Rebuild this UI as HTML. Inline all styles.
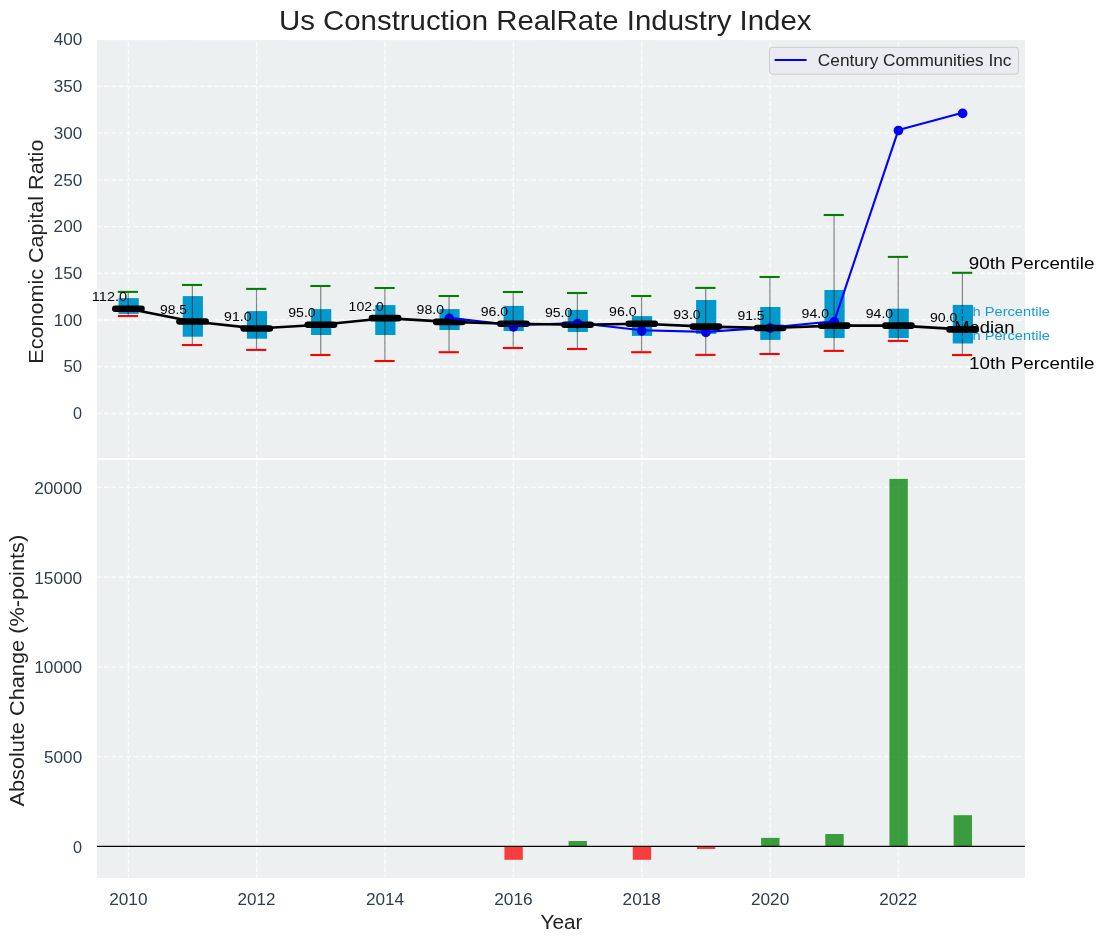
<!DOCTYPE html>
<html><head><meta charset="utf-8"><title>Us Construction RealRate Industry Index</title>
<style>html,body{margin:0;padding:0;background:#fff;}body{width:1104px;height:942px;overflow:hidden;font-family:"Liberation Sans",sans-serif;}svg{display:block;will-change:transform;}</style>
</head><body>
<svg width="1104" height="942" viewBox="0 0 1104 942" font-family="Liberation Sans, sans-serif">
<rect width="1104" height="942" fill="#ffffff"/>
<rect x="97" y="40" width="928" height="418" fill="#ecf0f1"/>
<rect x="97" y="460" width="928" height="418" fill="#ecf0f1"/>
<path d="M128.40 458V40 M128.40 878V460 M256.74 458V40 M256.74 878V460 M385.08 458V40 M385.08 878V460 M513.42 458V40 M513.42 878V460 M641.76 458V40 M641.76 878V460 M770.10 458V40 M770.10 878V460 M898.44 458V40 M898.44 878V460" stroke="#ffffff" stroke-opacity="0.75" stroke-width="1.39" stroke-dasharray="5.14 2.22" fill="none" stroke-dashoffset="1.34"/>
<path d="M97 413.50H1025 M97 366.77H1025 M97 320.04H1025 M97 273.31H1025 M97 226.58H1025 M97 179.85H1025 M97 133.12H1025 M97 86.39H1025 M97 39.66H1025 M97 846.30H1025 M97 756.57H1025 M97 666.85H1025 M97 577.12H1025 M97 487.40H1025" stroke="#ffffff" stroke-opacity="0.75" stroke-width="1.39" stroke-dasharray="5.14 2.22" fill="none" stroke-dashoffset="0.5"/>
<text x="952.11" y="315.90" font-size="13.58" fill="#1a9bd0" textLength="97.80" lengthAdjust="spacingAndGlyphs">75th Percentile</text>
<text x="952.04" y="339.90" font-size="13.58" fill="#1a9bd0" textLength="97.87" lengthAdjust="spacingAndGlyphs">25th Percentile</text>
<rect x="118.55" y="298.10" width="20.2" height="15.80" fill="#0399cc"/>
<rect x="182.72" y="296.10" width="20.2" height="40.60" fill="#0399cc"/>
<rect x="246.89" y="311.10" width="20.2" height="27.60" fill="#0399cc"/>
<rect x="311.06" y="309.10" width="20.2" height="25.90" fill="#0399cc"/>
<rect x="375.23" y="305.10" width="20.2" height="29.90" fill="#0399cc"/>
<rect x="439.40" y="309.10" width="20.2" height="20.90" fill="#0399cc"/>
<rect x="503.57" y="305.90" width="20.2" height="25.10" fill="#0399cc"/>
<rect x="567.74" y="309.90" width="20.2" height="22.10" fill="#0399cc"/>
<rect x="631.91" y="316.10" width="20.2" height="19.80" fill="#0399cc"/>
<rect x="696.08" y="300.00" width="20.2" height="33.90" fill="#0399cc"/>
<rect x="760.25" y="307.00" width="20.2" height="32.90" fill="#0399cc"/>
<rect x="824.42" y="290.00" width="20.2" height="48.00" fill="#0399cc"/>
<rect x="888.59" y="308.70" width="20.2" height="29.30" fill="#0399cc"/>
<rect x="952.76" y="304.90" width="20.2" height="38.60" fill="#0399cc"/>
<circle cx="449.25" cy="318.40" r="4.85" fill="#0000ff"/>
<circle cx="513.42" cy="326.80" r="4.85" fill="#0000ff"/>
<circle cx="577.59" cy="323.60" r="4.85" fill="#0000ff"/>
<circle cx="641.76" cy="330.90" r="4.85" fill="#0000ff"/>
<circle cx="705.93" cy="332.40" r="4.85" fill="#0000ff"/>
<circle cx="770.10" cy="328.10" r="4.85" fill="#0000ff"/>
<circle cx="834.27" cy="321.75" r="4.85" fill="#0000ff"/>
<circle cx="898.44" cy="130.50" r="4.85" fill="#0000ff"/>
<circle cx="962.61" cy="113.40" r="4.85" fill="#0000ff"/>
<path d="M128.20 291.90V316.00" stroke="#000" stroke-opacity="0.45" stroke-width="1.2" fill="none"/>
<path d="M192.37 284.95V345.00" stroke="#000" stroke-opacity="0.45" stroke-width="1.2" fill="none"/>
<path d="M256.54 288.90V349.90" stroke="#000" stroke-opacity="0.45" stroke-width="1.2" fill="none"/>
<path d="M320.71 286.00V355.00" stroke="#000" stroke-opacity="0.45" stroke-width="1.2" fill="none"/>
<path d="M384.88 288.00V361.00" stroke="#000" stroke-opacity="0.45" stroke-width="1.2" fill="none"/>
<path d="M449.05 296.00V352.20" stroke="#000" stroke-opacity="0.45" stroke-width="1.2" fill="none"/>
<path d="M513.22 292.00V348.00" stroke="#000" stroke-opacity="0.45" stroke-width="1.2" fill="none"/>
<path d="M577.39 293.00V349.00" stroke="#000" stroke-opacity="0.45" stroke-width="1.2" fill="none"/>
<path d="M641.56 296.00V352.20" stroke="#000" stroke-opacity="0.45" stroke-width="1.2" fill="none"/>
<path d="M705.73 287.90V354.90" stroke="#000" stroke-opacity="0.45" stroke-width="1.2" fill="none"/>
<path d="M769.90 277.00V354.00" stroke="#000" stroke-opacity="0.45" stroke-width="1.2" fill="none"/>
<path d="M834.07 215.00V350.90" stroke="#000" stroke-opacity="0.45" stroke-width="1.2" fill="none"/>
<path d="M898.24 256.90V340.90" stroke="#000" stroke-opacity="0.45" stroke-width="1.2" fill="none"/>
<path d="M962.41 272.80V304.90M962.41 343.50V355.00" stroke="#000" stroke-opacity="0.45" stroke-width="1.2" fill="none"/>
<path d="M962.41 343.50V304.90" stroke="#000" stroke-opacity="0.45" stroke-width="1.2" stroke-dasharray="5.14 2.22" fill="none"/>
<path d="M117.80 291.90H138.00" stroke="#008000" stroke-width="2.08"/>
<path d="M117.80 316.00H138.00" stroke="#ff0000" stroke-width="2.08"/>
<path d="M181.97 284.95H202.17" stroke="#008000" stroke-width="2.08"/>
<path d="M181.97 345.00H202.17" stroke="#ff0000" stroke-width="2.08"/>
<path d="M246.14 288.90H266.34" stroke="#008000" stroke-width="2.08"/>
<path d="M246.14 349.90H266.34" stroke="#ff0000" stroke-width="2.08"/>
<path d="M310.31 286.00H330.51" stroke="#008000" stroke-width="2.08"/>
<path d="M310.31 355.00H330.51" stroke="#ff0000" stroke-width="2.08"/>
<path d="M374.48 288.00H394.68" stroke="#008000" stroke-width="2.08"/>
<path d="M374.48 361.00H394.68" stroke="#ff0000" stroke-width="2.08"/>
<path d="M438.65 296.00H458.85" stroke="#008000" stroke-width="2.08"/>
<path d="M438.65 352.20H458.85" stroke="#ff0000" stroke-width="2.08"/>
<path d="M502.82 292.00H523.02" stroke="#008000" stroke-width="2.08"/>
<path d="M502.82 348.00H523.02" stroke="#ff0000" stroke-width="2.08"/>
<path d="M566.99 293.00H587.19" stroke="#008000" stroke-width="2.08"/>
<path d="M566.99 349.00H587.19" stroke="#ff0000" stroke-width="2.08"/>
<path d="M631.16 296.00H651.36" stroke="#008000" stroke-width="2.08"/>
<path d="M631.16 352.20H651.36" stroke="#ff0000" stroke-width="2.08"/>
<path d="M695.33 287.90H715.53" stroke="#008000" stroke-width="2.08"/>
<path d="M695.33 354.90H715.53" stroke="#ff0000" stroke-width="2.08"/>
<path d="M759.50 277.00H779.70" stroke="#008000" stroke-width="2.08"/>
<path d="M759.50 354.00H779.70" stroke="#ff0000" stroke-width="2.08"/>
<path d="M823.67 215.00H843.87" stroke="#008000" stroke-width="2.08"/>
<path d="M823.67 350.90H843.87" stroke="#ff0000" stroke-width="2.08"/>
<path d="M887.84 256.90H908.04" stroke="#008000" stroke-width="2.08"/>
<path d="M887.84 340.90H908.04" stroke="#ff0000" stroke-width="2.08"/>
<path d="M952.01 272.80H972.21" stroke="#008000" stroke-width="2.08"/>
<path d="M952.01 355.00H972.21" stroke="#ff0000" stroke-width="2.08"/>
<path d="M115.30 308.82H141.50" stroke="#000" stroke-width="6.6" stroke-linecap="round"/>
<path d="M179.47 321.44H205.67" stroke="#000" stroke-width="6.6" stroke-linecap="round"/>
<path d="M243.64 328.45H269.84" stroke="#000" stroke-width="6.6" stroke-linecap="round"/>
<path d="M307.81 324.71H334.01" stroke="#000" stroke-width="6.6" stroke-linecap="round"/>
<path d="M371.98 318.17H398.18" stroke="#000" stroke-width="6.6" stroke-linecap="round"/>
<path d="M436.15 321.91H462.35" stroke="#000" stroke-width="6.6" stroke-linecap="round"/>
<path d="M500.32 323.78H526.52" stroke="#000" stroke-width="6.6" stroke-linecap="round"/>
<path d="M564.49 324.71H590.69" stroke="#000" stroke-width="6.6" stroke-linecap="round"/>
<path d="M628.66 323.78H654.86" stroke="#000" stroke-width="6.6" stroke-linecap="round"/>
<path d="M692.83 326.58H719.03" stroke="#000" stroke-width="6.6" stroke-linecap="round"/>
<path d="M757.00 327.98H783.20" stroke="#000" stroke-width="6.6" stroke-linecap="round"/>
<path d="M821.17 325.65H847.37" stroke="#000" stroke-width="6.6" stroke-linecap="round"/>
<path d="M885.34 325.65H911.54" stroke="#000" stroke-width="6.6" stroke-linecap="round"/>
<path d="M949.51 329.39H975.71" stroke="#000" stroke-width="6.6" stroke-linecap="round"/>
<polyline points="449.25,317.90 513.42,325.30 577.59,323.00 641.76,330.30 705.93,331.90 770.10,327.50 834.27,321.20 898.44,129.90 962.61,112.80" fill="none" stroke="#0000ff" stroke-width="2.08" stroke-linejoin="round"/>
<polyline points="128.40,308.82 192.57,321.44 256.74,328.45 320.91,324.71 385.08,318.17 449.25,321.91 513.42,323.78 577.59,324.71 641.76,323.78 705.93,326.58 770.10,327.98 834.27,325.65 898.44,325.65 962.61,329.39" fill="none" stroke="#000" stroke-width="2.6" stroke-linejoin="round"/>
<text x="91.89" y="301.22" font-size="13.21" fill="#000" textLength="35.28" lengthAdjust="spacingAndGlyphs">112.0</text>
<text x="159.94" y="313.84" font-size="13.21" fill="#000" textLength="27.14" lengthAdjust="spacingAndGlyphs">98.5</text>
<text x="224.10" y="320.85" font-size="13.21" fill="#000" textLength="27.40" lengthAdjust="spacingAndGlyphs">91.0</text>
<text x="288.27" y="317.11" font-size="13.21" fill="#000" textLength="27.40" lengthAdjust="spacingAndGlyphs">95.0</text>
<text x="348.61" y="310.57" font-size="13.21" fill="#000" textLength="35.22" lengthAdjust="spacingAndGlyphs">102.0</text>
<text x="416.61" y="314.31" font-size="13.21" fill="#000" textLength="27.40" lengthAdjust="spacingAndGlyphs">98.0</text>
<text x="480.78" y="316.18" font-size="13.21" fill="#000" textLength="27.40" lengthAdjust="spacingAndGlyphs">96.0</text>
<text x="544.95" y="317.11" font-size="13.21" fill="#000" textLength="27.40" lengthAdjust="spacingAndGlyphs">95.0</text>
<text x="609.12" y="316.18" font-size="13.21" fill="#000" textLength="27.40" lengthAdjust="spacingAndGlyphs">96.0</text>
<text x="673.29" y="318.98" font-size="13.21" fill="#000" textLength="27.40" lengthAdjust="spacingAndGlyphs">93.0</text>
<text x="737.47" y="320.38" font-size="13.21" fill="#000" textLength="27.14" lengthAdjust="spacingAndGlyphs">91.5</text>
<text x="801.63" y="318.05" font-size="13.21" fill="#000" textLength="27.40" lengthAdjust="spacingAndGlyphs">94.0</text>
<text x="865.80" y="318.05" font-size="13.21" fill="#000" textLength="27.40" lengthAdjust="spacingAndGlyphs">94.0</text>
<text x="929.97" y="321.79" font-size="13.21" fill="#000" textLength="27.40" lengthAdjust="spacingAndGlyphs">90.0</text>
<text x="968.84" y="268.80" font-size="17.42" fill="#000" textLength="125.57" lengthAdjust="spacingAndGlyphs">90th Percentile</text>
<text x="954.20" y="333.40" font-size="17.42" fill="#000" textLength="60.26" lengthAdjust="spacingAndGlyphs">Median</text>
<text x="969.02" y="368.80" font-size="17.42" fill="#000" textLength="125.38" lengthAdjust="spacingAndGlyphs">10th Percentile</text>
<rect x="769.5" y="47.3" width="249" height="26.8" rx="3" ry="3" fill="#eaebf1" fill-opacity="0.9" stroke="#cccccc" stroke-width="1"/>
<path d="M774.6 60H806.6" stroke="#0000ff" stroke-width="2.08"/>
<text x="817.88" y="65.60" font-size="15.97" fill="#222222" textLength="193.62" lengthAdjust="spacingAndGlyphs">Century Communities Inc</text>
<rect x="504.42" y="846.30" width="18.4" height="13.50" fill="#ff0000" fill-opacity="0.75"/>
<rect x="568.59" y="840.97" width="18.4" height="5.33" fill="#008000" fill-opacity="0.75"/>
<rect x="632.76" y="846.30" width="18.4" height="13.50" fill="#ff0000" fill-opacity="0.75"/>
<rect x="696.93" y="846.30" width="18.4" height="2.70" fill="#ff0000" fill-opacity="0.75"/>
<rect x="761.10" y="837.90" width="18.4" height="8.40" fill="#008000" fill-opacity="0.75"/>
<rect x="825.27" y="834.00" width="18.4" height="12.30" fill="#008000" fill-opacity="0.75"/>
<rect x="889.44" y="478.90" width="18.4" height="367.40" fill="#008000" fill-opacity="0.75"/>
<rect x="953.61" y="815.20" width="18.4" height="31.10" fill="#008000" fill-opacity="0.75"/>
<path d="M97 846.35H1025" stroke="#000" stroke-width="1.39"/>
<text x="73.12" y="419.20" font-size="16.15" fill="#2c3e50" textLength="9.04" lengthAdjust="spacingAndGlyphs">0</text>
<text x="63.53" y="372.47" font-size="16.15" fill="#2c3e50" textLength="18.65" lengthAdjust="spacingAndGlyphs">50</text>
<text x="53.73" y="325.74" font-size="16.15" fill="#2c3e50" textLength="28.54" lengthAdjust="spacingAndGlyphs">100</text>
<text x="53.73" y="279.01" font-size="16.15" fill="#2c3e50" textLength="28.54" lengthAdjust="spacingAndGlyphs">150</text>
<text x="53.62" y="232.28" font-size="16.15" fill="#2c3e50" textLength="28.65" lengthAdjust="spacingAndGlyphs">200</text>
<text x="53.62" y="185.55" font-size="16.15" fill="#2c3e50" textLength="28.65" lengthAdjust="spacingAndGlyphs">250</text>
<text x="53.80" y="138.82" font-size="16.15" fill="#2c3e50" textLength="28.47" lengthAdjust="spacingAndGlyphs">300</text>
<text x="53.80" y="92.09" font-size="16.15" fill="#2c3e50" textLength="28.47" lengthAdjust="spacingAndGlyphs">350</text>
<text x="53.67" y="45.36" font-size="16.15" fill="#2c3e50" textLength="28.60" lengthAdjust="spacingAndGlyphs">400</text>
<text x="73.12" y="852.70" font-size="16.15" fill="#2c3e50" textLength="9.04" lengthAdjust="spacingAndGlyphs">0</text>
<text x="44.07" y="762.97" font-size="16.15" fill="#2c3e50" textLength="38.11" lengthAdjust="spacingAndGlyphs">5000</text>
<text x="34.28" y="673.25" font-size="16.15" fill="#2c3e50" textLength="47.91" lengthAdjust="spacingAndGlyphs">10000</text>
<text x="34.28" y="583.52" font-size="16.15" fill="#2c3e50" textLength="47.91" lengthAdjust="spacingAndGlyphs">15000</text>
<text x="34.17" y="493.80" font-size="16.15" fill="#2c3e50" textLength="48.02" lengthAdjust="spacingAndGlyphs">20000</text>
<text x="109.24" y="904.70" font-size="16.15" fill="#2c3e50" textLength="38.29" lengthAdjust="spacingAndGlyphs">2010</text>
<text x="237.59" y="904.70" font-size="16.15" fill="#2c3e50" textLength="37.91" lengthAdjust="spacingAndGlyphs">2012</text>
<text x="365.92" y="904.70" font-size="16.15" fill="#2c3e50" textLength="38.27" lengthAdjust="spacingAndGlyphs">2014</text>
<text x="494.26" y="904.70" font-size="16.15" fill="#2c3e50" textLength="38.46" lengthAdjust="spacingAndGlyphs">2016</text>
<text x="622.60" y="904.70" font-size="16.15" fill="#2c3e50" textLength="38.29" lengthAdjust="spacingAndGlyphs">2018</text>
<text x="750.94" y="904.70" font-size="16.15" fill="#2c3e50" textLength="38.29" lengthAdjust="spacingAndGlyphs">2020</text>
<text x="879.29" y="904.70" font-size="16.15" fill="#2c3e50" textLength="37.91" lengthAdjust="spacingAndGlyphs">2022</text>
<text x="278.94" y="29.60" font-size="27.84" fill="#222222" textLength="532.54" lengthAdjust="spacingAndGlyphs">Us Construction RealRate Industry Index</text>
<text transform="translate(42.90,363.68) rotate(-90)" x="0" y="0" font-size="20.51" fill="#222222" textLength="224.08" lengthAdjust="spacingAndGlyphs">Economic Capital Ratio</text>
<text transform="translate(23.80,806.61) rotate(-90)" x="0" y="0" font-size="20.51" fill="#222222" textLength="271.77" lengthAdjust="spacingAndGlyphs">Absolute Change (%-points)</text>
<text x="540.58" y="928.60" font-size="20.51" fill="#222222" textLength="41.96" lengthAdjust="spacingAndGlyphs">Year</text>
</svg>
</body></html>
